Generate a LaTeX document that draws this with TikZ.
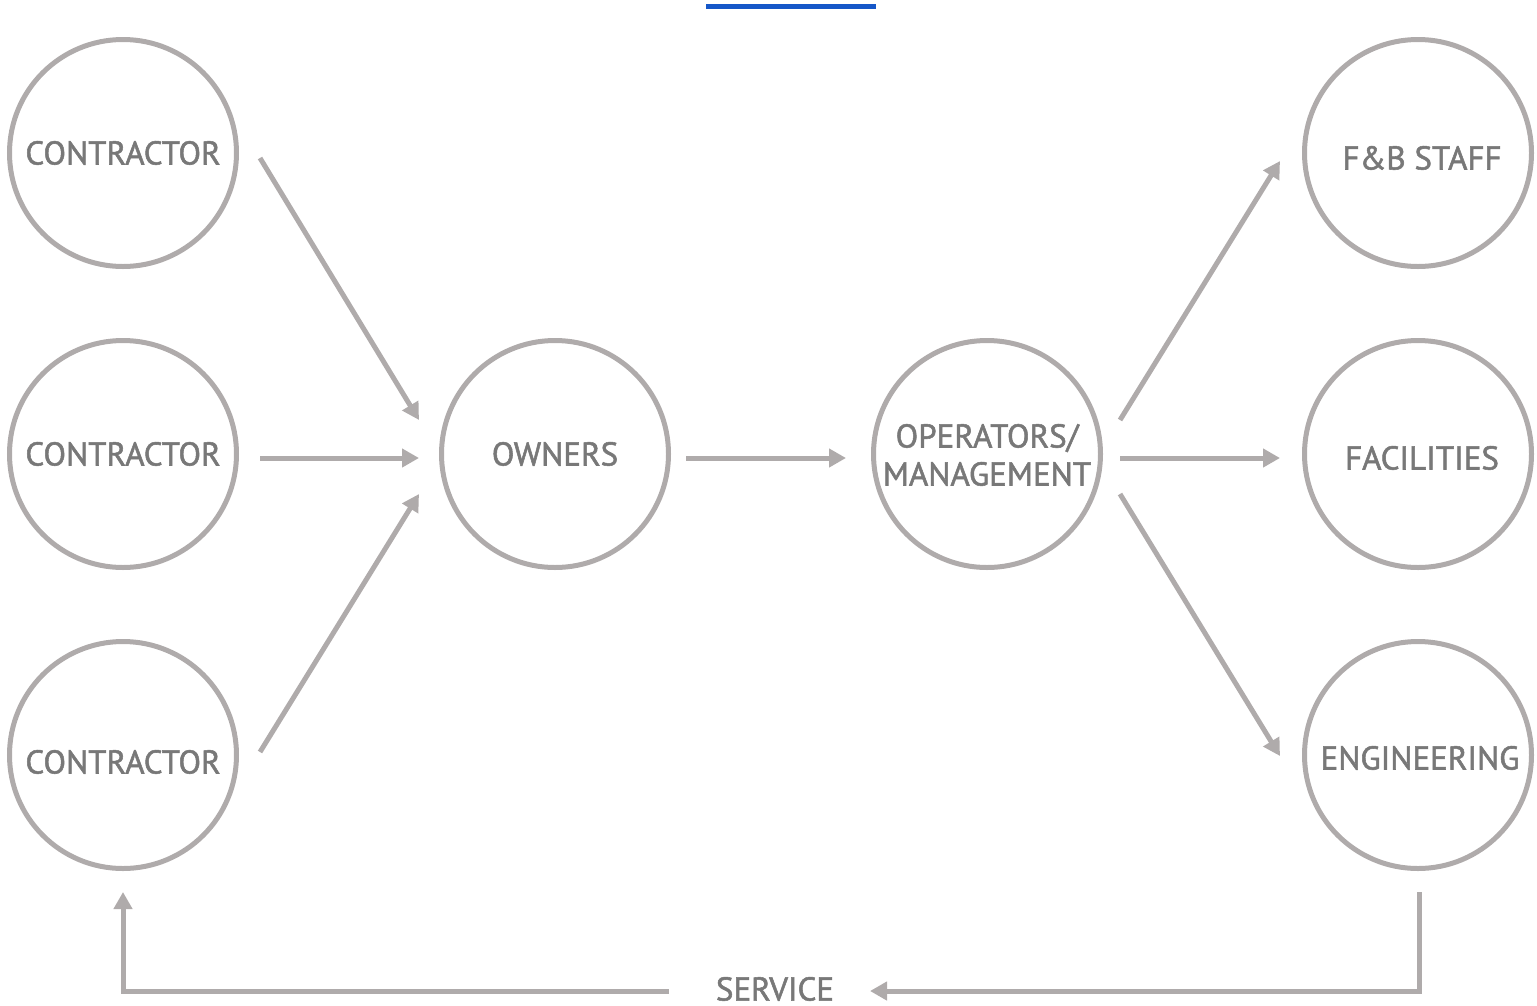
\documentclass[tikz,border=0pt]{standalone}
\usepackage{fontspec}
\setmainfont[FakeBold=1.6]{PT Sans}
\usetikzlibrary{arrows.meta,calc}
\definecolor{lgray}{HTML}{AFABAB}
\definecolor{tgray}{HTML}{787878}
\definecolor{topblue}{HTML}{1557C8}
\begin{document}
\begin{tikzpicture}[x=1pt,y=-1pt,
  ring/.style={circle,draw=lgray,line width=5pt,minimum size=227pt,inner sep=0pt,
    text=tgray,font=\fontsize{33}{38}\selectfont,align=center,text height=23pt,text depth=0pt},
  txt/.style={text=tgray,font=\fontsize{33}{38}\selectfont,inner sep=0pt,text height=23pt,text depth=0pt},
  flow/.style={draw=lgray,line width=5pt,-{Triangle[length=17pt,width=18pt]}}]
\useasboundingbox (0,0) rectangle (1537,1005);
\draw[topblue,line width=5pt] (706,6) -- (876,6);
\node[ring] (c1) at (123,153) {CONTRACTOR};
\node[ring] (c2) at (123,454) {CONTRACTOR};
\node[ring] (c3) at (123,755) {};
\node[txt] (c3t) at (123,762) {CONTRACTOR};
\node[ring] (own) at (555,454) {OWNERS};
\node[ring] (ops) at (987,454) {};
\node[txt] (opst1) at (987,436) {OPERATORS/};
\node[txt] (opst2) at (987,474) {MANAGEMENT};
\node[ring] (fb) at (1418,153) {};
\node[txt] (fbt) at (1422,158) {F\&B STAFF};
\node[ring] (fac) at (1418,454) {};
\node[txt] (fact) at (1422,458) {FACILITIES};
\node[ring] (eng) at (1418,755) {};
\node[txt] (engt) at (1420,758) {ENGINEERING};
\node[txt] (svc) at (775,989) {SERVICE};
\draw[flow] ($(c1.center)+(137,5)$) -- ($(own.center)+(-136,-34)$);
\draw[flow] ($(c2.center)+(137,4)$) -- ($(own.center)+(-136,4)$);
\draw[flow] ($(c3.center)+(137,-3)$) -- ($(own.center)+(-136,40)$);
\draw[flow] ($(own.center)+(131,4)$) -- ($(ops.center)+(-141,4)$);
\draw[flow] ($(ops.center)+(133,-34)$) -- ($(fb.center)+(-138,8)$);
\draw[flow] ($(ops.center)+(133,4)$) -- ($(fac.center)+(-138,4)$);
\draw[flow] ($(ops.center)+(133,40)$) -- ($(eng.center)+(-138,1)$);
\draw[flow] ($(eng.center)+(1,137)$) |- ($(svc.center)+(95,2)$);
\draw[flow] ($(svc.center)+(-106,2)$) -| ($(c3.center)+(0,137)$);
\end{tikzpicture}
\end{document}
